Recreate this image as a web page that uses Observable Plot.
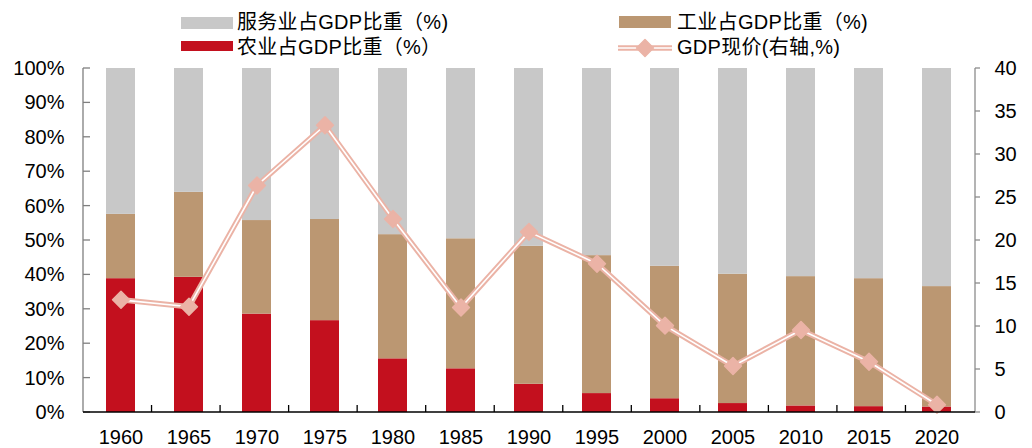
<!DOCTYPE html>
<html>
<head>
<meta charset="utf-8">
<script src="https://cdn.jsdelivr.net/npm/d3@7"></script>
<script src="https://cdn.jsdelivr.net/npm/@observablehq/plot@0.6"></script>
<style>
  body { margin: 0; background: #fff; font-family: "Liberation Sans", Arial, "Noto Sans CJK SC", sans-serif; }
  #wrap { position: relative; width: 1032px; height: 448px; }
  #legend { position: absolute; left: 0; top: 0; width: 1032px; height: 60px; }
  .sw { position: absolute; }
  .lb { position: absolute; font-size: 20px; letter-spacing: 0.3px; color: #000; white-space: nowrap; line-height: 22px; }
</style>
</head>
<body>
<div id="wrap">
<div id="chart"></div>
<div id="legend"></div>
</div>
<script>
// ---- data ----
const years = ["1960","1965","1970","1975","1980","1985","1990","1995","2000","2005","2010","2015","2020"];
const agriculture = [38.9, 39.3, 28.6, 26.7, 15.6, 12.7, 8.2, 5.5, 4.0, 2.6, 1.9, 1.7, 1.6];
const industry    = [18.7, 24.7, 27.2, 29.4, 36.1, 37.8, 40.1, 40.1, 38.5, 37.6, 37.6, 37.2, 35.0];
const services    = [42.4, 36.0, 44.2, 43.9, 48.3, 49.5, 51.7, 54.4, 57.5, 59.8, 60.5, 61.1, 63.4];
const gdpGrowth   = [13.1, 12.3, 26.4, 33.4, 22.5, 12.2, 21.0, 17.3, 10.1, 5.4, 9.6, 5.9, 0.9];
const leftTicks   = [0, 10, 20, 30, 40, 50, 60, 70, 80, 90, 100];
const rightTicks  = [0, 5, 10, 15, 20, 25, 30, 35, 40];
const seriesNames = ["农业占GDP比重（%）", "工业占GDP比重（%)", "服务业占GDP比重（%)"];
const lineName    = "GDP现价(右轴,%)";

// ---- styles ----
const colors = ["#C3101E", "#BB9772", "#C8C8C8"];
const pink = "#EBB3A6";
const rightMax = 40;
const k = 100 / rightMax; // right axis -> left axis units

const rows = [];
years.forEach((y, i) => {
  rows.push({year: y, series: seriesNames[0], value: agriculture[i]});
  rows.push({year: y, series: seriesNames[1], value: industry[i]});
  rows.push({year: y, series: seriesNames[2], value: services[i]});
});
const line = years.map((y, i) => ({year: y, v: gdpGrowth[i] * k}));

// custom axis lines and tick marks
function axisLines(index, scales, values, dims) {
  const {width, height, marginLeft, marginRight, marginTop, marginBottom} = dims;
  const x0 = marginLeft, x1 = width - marginRight, y0 = marginTop, y1 = height - marginBottom;
  const g = d3.create("svg:g").attr("fill", "none").attr("stroke-width", 1.3);
  const step = (x1 - x0) / years.length;
  g.append("line").attr("x1", x0).attr("x2", x0).attr("y1", y0).attr("y2", y1).attr("stroke", "#7f7f7f");
  leftTicks.forEach(t => {
    const yy = scales.y(t);
    g.append("line").attr("x1", x0).attr("x2", x0 + 7).attr("y1", yy).attr("y2", yy).attr("stroke", "#7f7f7f");
  });
  g.append("line").attr("x1", x1 + 1).attr("x2", x1 + 1).attr("y1", y0).attr("y2", y1).attr("stroke", "#8c8c8c");
  rightTicks.forEach(t => {
    const yy = scales.y(t * k);
    g.append("line").attr("x1", x1 + 1).attr("x2", x1 + 6).attr("y1", yy).attr("y2", yy).attr("stroke", "#8c8c8c");
  });
  g.append("line").attr("x1", x0).attr("x2", x1 + 1).attr("y1", y1).attr("y2", y1).attr("stroke", "#000");
  for (let i = 1; i < years.length; i++) {
    const xx = x0 + i * step;
    g.append("line").attr("x1", xx).attr("x2", xx).attr("y1", y1).attr("y2", y1 - 7).attr("stroke", "#000");
  }
  return g.node();
}

const chart = Plot.plot({
  width: 1032,
  height: 448,
  marginTop: 68,
  marginBottom: 36,
  marginLeft: 83,
  marginRight: 58,
  style: {fontFamily: '"Liberation Sans", Arial, "Noto Sans CJK SC", sans-serif', fontSize: "20px", color: "#000", background: "#fff"},
  x: {type: "band", domain: years, paddingInner: 0.58, paddingOuter: 0.29, axis: null},
  y: {domain: [0, 100], axis: null},
  color: {domain: seriesNames, range: colors},
  marks: [
    Plot.barY(rows, {x: "year", y: "value", fill: "series"}),
    Plot.line(line, {x: "year", y: "v", stroke: pink, strokeWidth: 5.5}),
    Plot.line(line, {x: "year", y: "v", stroke: "#fff", strokeWidth: 1.6}),
    Plot.dot(line, {x: "year", y: "v", symbol: "diamond2", r: 7.6, fill: pink, stroke: pink, strokeWidth: 1.5, strokeLinejoin: "round"}),
    axisLines,
    Plot.axisY(leftTicks, {anchor: "left", tickFormat: d => d + "%", tickSize: 0, tickPadding: 19, label: null, fontSize: 20}),
    Plot.axisY(rightTicks.map(t => t * k), {anchor: "right", tickFormat: d => String(Math.round(d / k)), tickSize: 0, tickPadding: 20, label: null, fontSize: 20}),
    Plot.axisX({anchor: "bottom", tickSize: 0, tickPadding: 17, label: null, fontSize: 20})
  ]
});
document.getElementById("chart").appendChild(chart);

// ---- legend ----
const legend = d3.select("#legend");
const items = [
  {name: seriesNames[2], color: colors[2], sx: 181, sy: 17, sh: 12, tx: 237, ty: 11},
  {name: seriesNames[1], color: colors[1], sx: 619, sy: 16, sh: 12, tx: 677, ty: 11},
  {name: seriesNames[0], color: colors[0], sx: 181, sy: 41, sh: 10, tx: 237, ty: 36}
];
items.forEach(it => {
  legend.append("div").attr("class", "sw")
    .style("left", it.sx + "px").style("top", it.sy + "px")
    .style("width", "52px").style("height", it.sh + "px").style("background", it.color);
  legend.append("div").attr("class", "lb")
    .style("left", it.tx + "px").style("top", it.ty + "px").text(it.name);
});
const ls = legend.append("svg").attr("class", "sw").attr("width", 60).attr("height", 24)
  .style("left", "615px").style("top", "36px");
ls.append("line").attr("x1", 3).attr("x2", 57).attr("y1", 12).attr("y2", 12).attr("stroke", pink).attr("stroke-width", 5.5);
ls.append("line").attr("x1", 3).attr("x2", 57).attr("y1", 12).attr("y2", 12).attr("stroke", "#fff").attr("stroke-width", 1.6);
ls.append("path").attr("d", d3.symbol(d3.symbolDiamond2, Math.PI * 7.6 * 7.6)()).attr("transform", "translate(30,12)")
  .attr("fill", pink).attr("stroke", pink).attr("stroke-width", 1.5).attr("stroke-linejoin", "round");
legend.append("div").attr("class", "lb").style("left", "677px").style("top", "36px").text(lineName);
</script>
</body>
</html>
